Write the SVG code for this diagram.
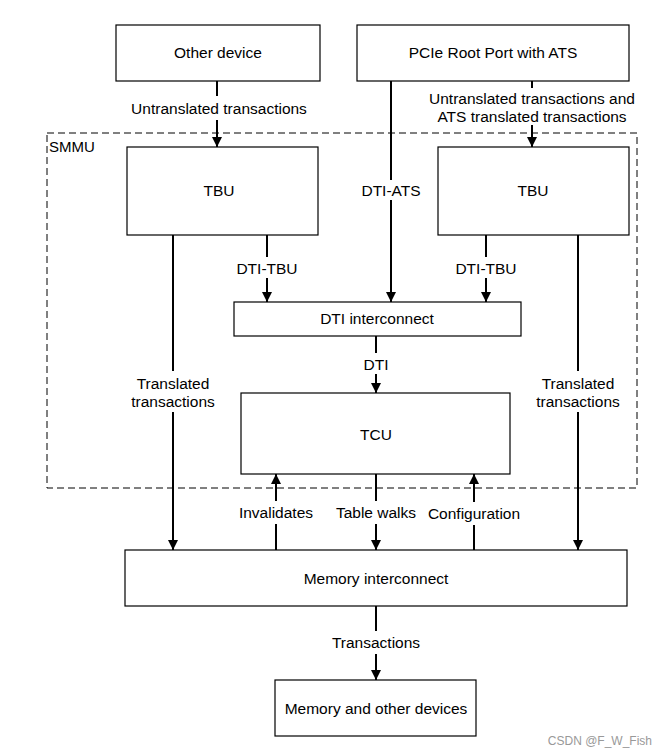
<svg xmlns="http://www.w3.org/2000/svg" width="667" height="755" viewBox="0 0 667 755">
<style>
.box{fill:#fff;stroke:#000;stroke-width:1.2}
.t{font-family:"Liberation Sans",Arial,sans-serif;font-size:15.5px;fill:#000;text-anchor:middle}
.c{fill:none;stroke:#000;stroke-width:2}
.a{marker-end:url(#arr)}
</style>
<defs>
<marker id="arr" markerUnits="userSpaceOnUse" markerWidth="10" markerHeight="12" refX="10" refY="5" orient="auto">
<path d="M0,0 L10,5 L0,10 z" fill="#000"/>
</marker>
</defs>
<rect width="667" height="755" fill="#fff"/>
<g id="smmu">
<rect x="47" y="133" width="590" height="355" fill="none" stroke="#000" stroke-width="1" stroke-dasharray="7,4"/>
<text x="49" y="152" font-family="Liberation Sans,Arial,sans-serif" font-size="15">SMMU</text>
</g>
<g id="other-device"><rect class="box" x="116" y="25" width="204" height="56"/><text class="t" x="218" y="58">Other device</text></g>
<g id="pcie"><rect class="box" x="357" y="25" width="272" height="56"/><text class="t" x="493" y="58">PCIe Root Port with ATS</text></g>
<g id="tbu-left"><rect class="box" x="127" y="147" width="191" height="88"/><text class="t" x="219" y="196">TBU</text></g>
<g id="tbu-right"><rect class="box" x="438" y="147" width="191" height="88"/><text class="t" x="533" y="196">TBU</text></g>
<g id="dti-interconnect"><rect class="box" x="234" y="302" width="287" height="34"/><text class="t" x="377" y="324">DTI interconnect</text></g>
<g id="tcu"><rect class="box" x="241" y="393" width="269" height="81"/><text class="t" x="376" y="440">TCU</text></g>
<g id="memory-interconnect"><rect class="box" x="125" y="550" width="502" height="56"/><text class="t" x="376" y="584">Memory interconnect</text></g>
<g id="memory-devices"><rect class="box" x="275" y="680" width="201" height="56"/><text class="t" x="376" y="714">Memory and other devices</text></g>
<g id="connectors">
<path class="c" d="M217,81 V96"/><path class="c a" d="M217,120 V147"/>
<text class="t" x="219" y="114">Untranslated transactions</text>
<path class="c" d="M532,81 V88"/><path class="c a" d="M532,125 V147"/>
<text class="t" x="532" y="104">Untranslated transactions and</text>
<text class="t" x="532" y="122">ATS translated transactions</text>
<path class="c" d="M391,81 V180"/><path class="c a" d="M391,200 V302"/>
<text class="t" x="391" y="196">DTI-ATS</text>
<path class="c" d="M267,235 V257"/><path class="c a" d="M267,278 V302"/>
<text class="t" x="267" y="274">DTI-TBU</text>
<path class="c" d="M486,235 V257"/><path class="c a" d="M486,278 V302"/>
<text class="t" x="486" y="274">DTI-TBU</text>
<path class="c" d="M376,336 V353"/><path class="c a" d="M376,374 V393"/>
<text class="t" x="376" y="370">DTI</text>
<path class="c" d="M173,235 V371"/><path class="c a" d="M173,412 V550"/>
<text class="t" x="173" y="389">Translated</text>
<text class="t" x="173" y="407">transactions</text>
<path class="c" d="M578,235 V371"/><path class="c a" d="M578,412 V550"/>
<text class="t" x="578" y="389">Translated</text>
<text class="t" x="578" y="407">transactions</text>
<path class="c" d="M276,550 V524"/><path class="c a" d="M276,501 V474"/>
<text class="t" x="276" y="518">Invalidates</text>
<path class="c" d="M376,474 V501"/><path class="c a" d="M376,524 V550"/>
<text class="t" x="376" y="518">Table walks</text>
<path class="c" d="M474,550 V525"/><path class="c a" d="M474,502 V474"/>
<text class="t" x="474" y="519">Configuration</text>
<path class="c" d="M376,606 V631"/><path class="c a" d="M376,654 V680"/>
<text class="t" x="376" y="648">Transactions</text>
</g>
<text x="652" y="745" font-family="Liberation Sans,Arial,sans-serif" font-size="12" fill="#999" text-anchor="end">CSDN @F_W_Fish</text>
</svg>
